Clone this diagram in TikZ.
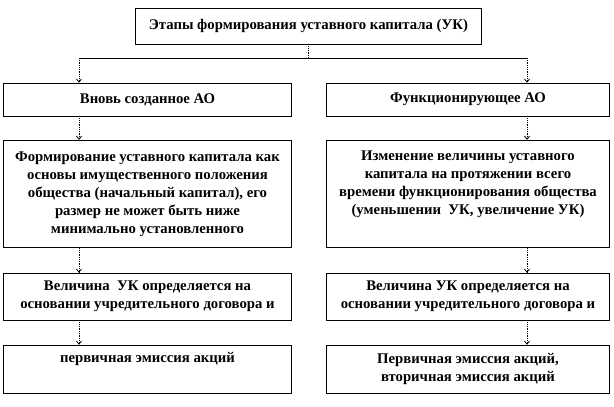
\documentclass[tikz,border=0pt]{standalone}
\usepackage{fontspec}
\setmainfont{Liberation Serif}
\usepackage{tikz}
\usetikzlibrary{arrows.meta,positioning,calc}

\begin{document}
\begin{tikzpicture}[x=1bp,y=-1bp,
  every node/.style={align=center,font=\bfseries\fontsize{14.8}{18}\selectfont,inner sep=0pt},
  stage/.style={draw,line width=0.8bp,minimum width=#1},
  stage/.default=289,
  to/.style={densely dotted,line width=0.8bp,-{Straight Barb[length=3bp,width=5bp]}},
  branch/.style={line width=0.8bp}]

    \useasboundingbox (0,0) rectangle (614,406);

    % top
    \node[stage=347,minimum height=36](stages) at (308.5,26)
        {Этапы формирования уставного капитала (УК)};

    % left column
    \node[stage,minimum height=33](newao) at (147.5,99.5){Вновь созданное АО};
    \node[stage,minimum height=108](formcap) at (147.5,194)
        {Формирование уставного капитала как\\
         основы имущественного положения\\
         общества (начальный капитал), его\\
         размер не может быть ниже\\
         минимально установленного};
    \node[stage,minimum height=47](sizeleft) at (147.5,296.5)
        {Величина~~УК определяется на\\
         основании учредительного договора и};
    \node[stage,minimum height=48](emileft) at (147.5,369)
        {первичная эмиссия акций\\ \strut};

    % right column
    \node[stage=284,minimum height=33](funcao) at (468,99.5){Функционирующее АО};
    \node[stage=284,minimum height=108](changecap) at (468,194)
        {Изменение величины уставного\\
         капитала на протяжении всего\\
         времени функционирования общества\\
         (уменьшении~~УК, увеличение УК)\\ \strut};
    \node[stage=284,minimum height=47](sizeright) at (468,296.5)
        {Величина УК определяется на\\
         основании учредительного договора и};
    \node[stage=284,minimum height=48](emiright) at (468,369)
        {Первичная эмиссия акций,\\
         вторичная эмиссия акций};

    \coordinate (split) at (stages.south |- 0,58);
    \coordinate (jl) at (79,58);
    \coordinate (jr) at (527,58);

    \draw[densely dotted,line width=0.8bp](stages.south) -- (split);
    \draw[branch](jl) -- (jr);
    \draw[to](jl) -- (jl |- newao.north);
    \draw[to](jr) -- (jr |- funcao.north);

    \draw[to](jl |- newao.south) -- (jl |- formcap.north);
    \draw[to](jl |- formcap.south) -- (jl |- sizeleft.north);
    \draw[to](jl |- sizeleft.south) -- (jl |- emileft.north);

    \draw[to](jr |- funcao.south) -- (jr |- changecap.north);
    \draw[to](jr |- changecap.south) -- (jr |- sizeright.north);
    \draw[to](jr |- sizeright.south) -- (jr |- emiright.north);
\end{tikzpicture}
\end{document}
